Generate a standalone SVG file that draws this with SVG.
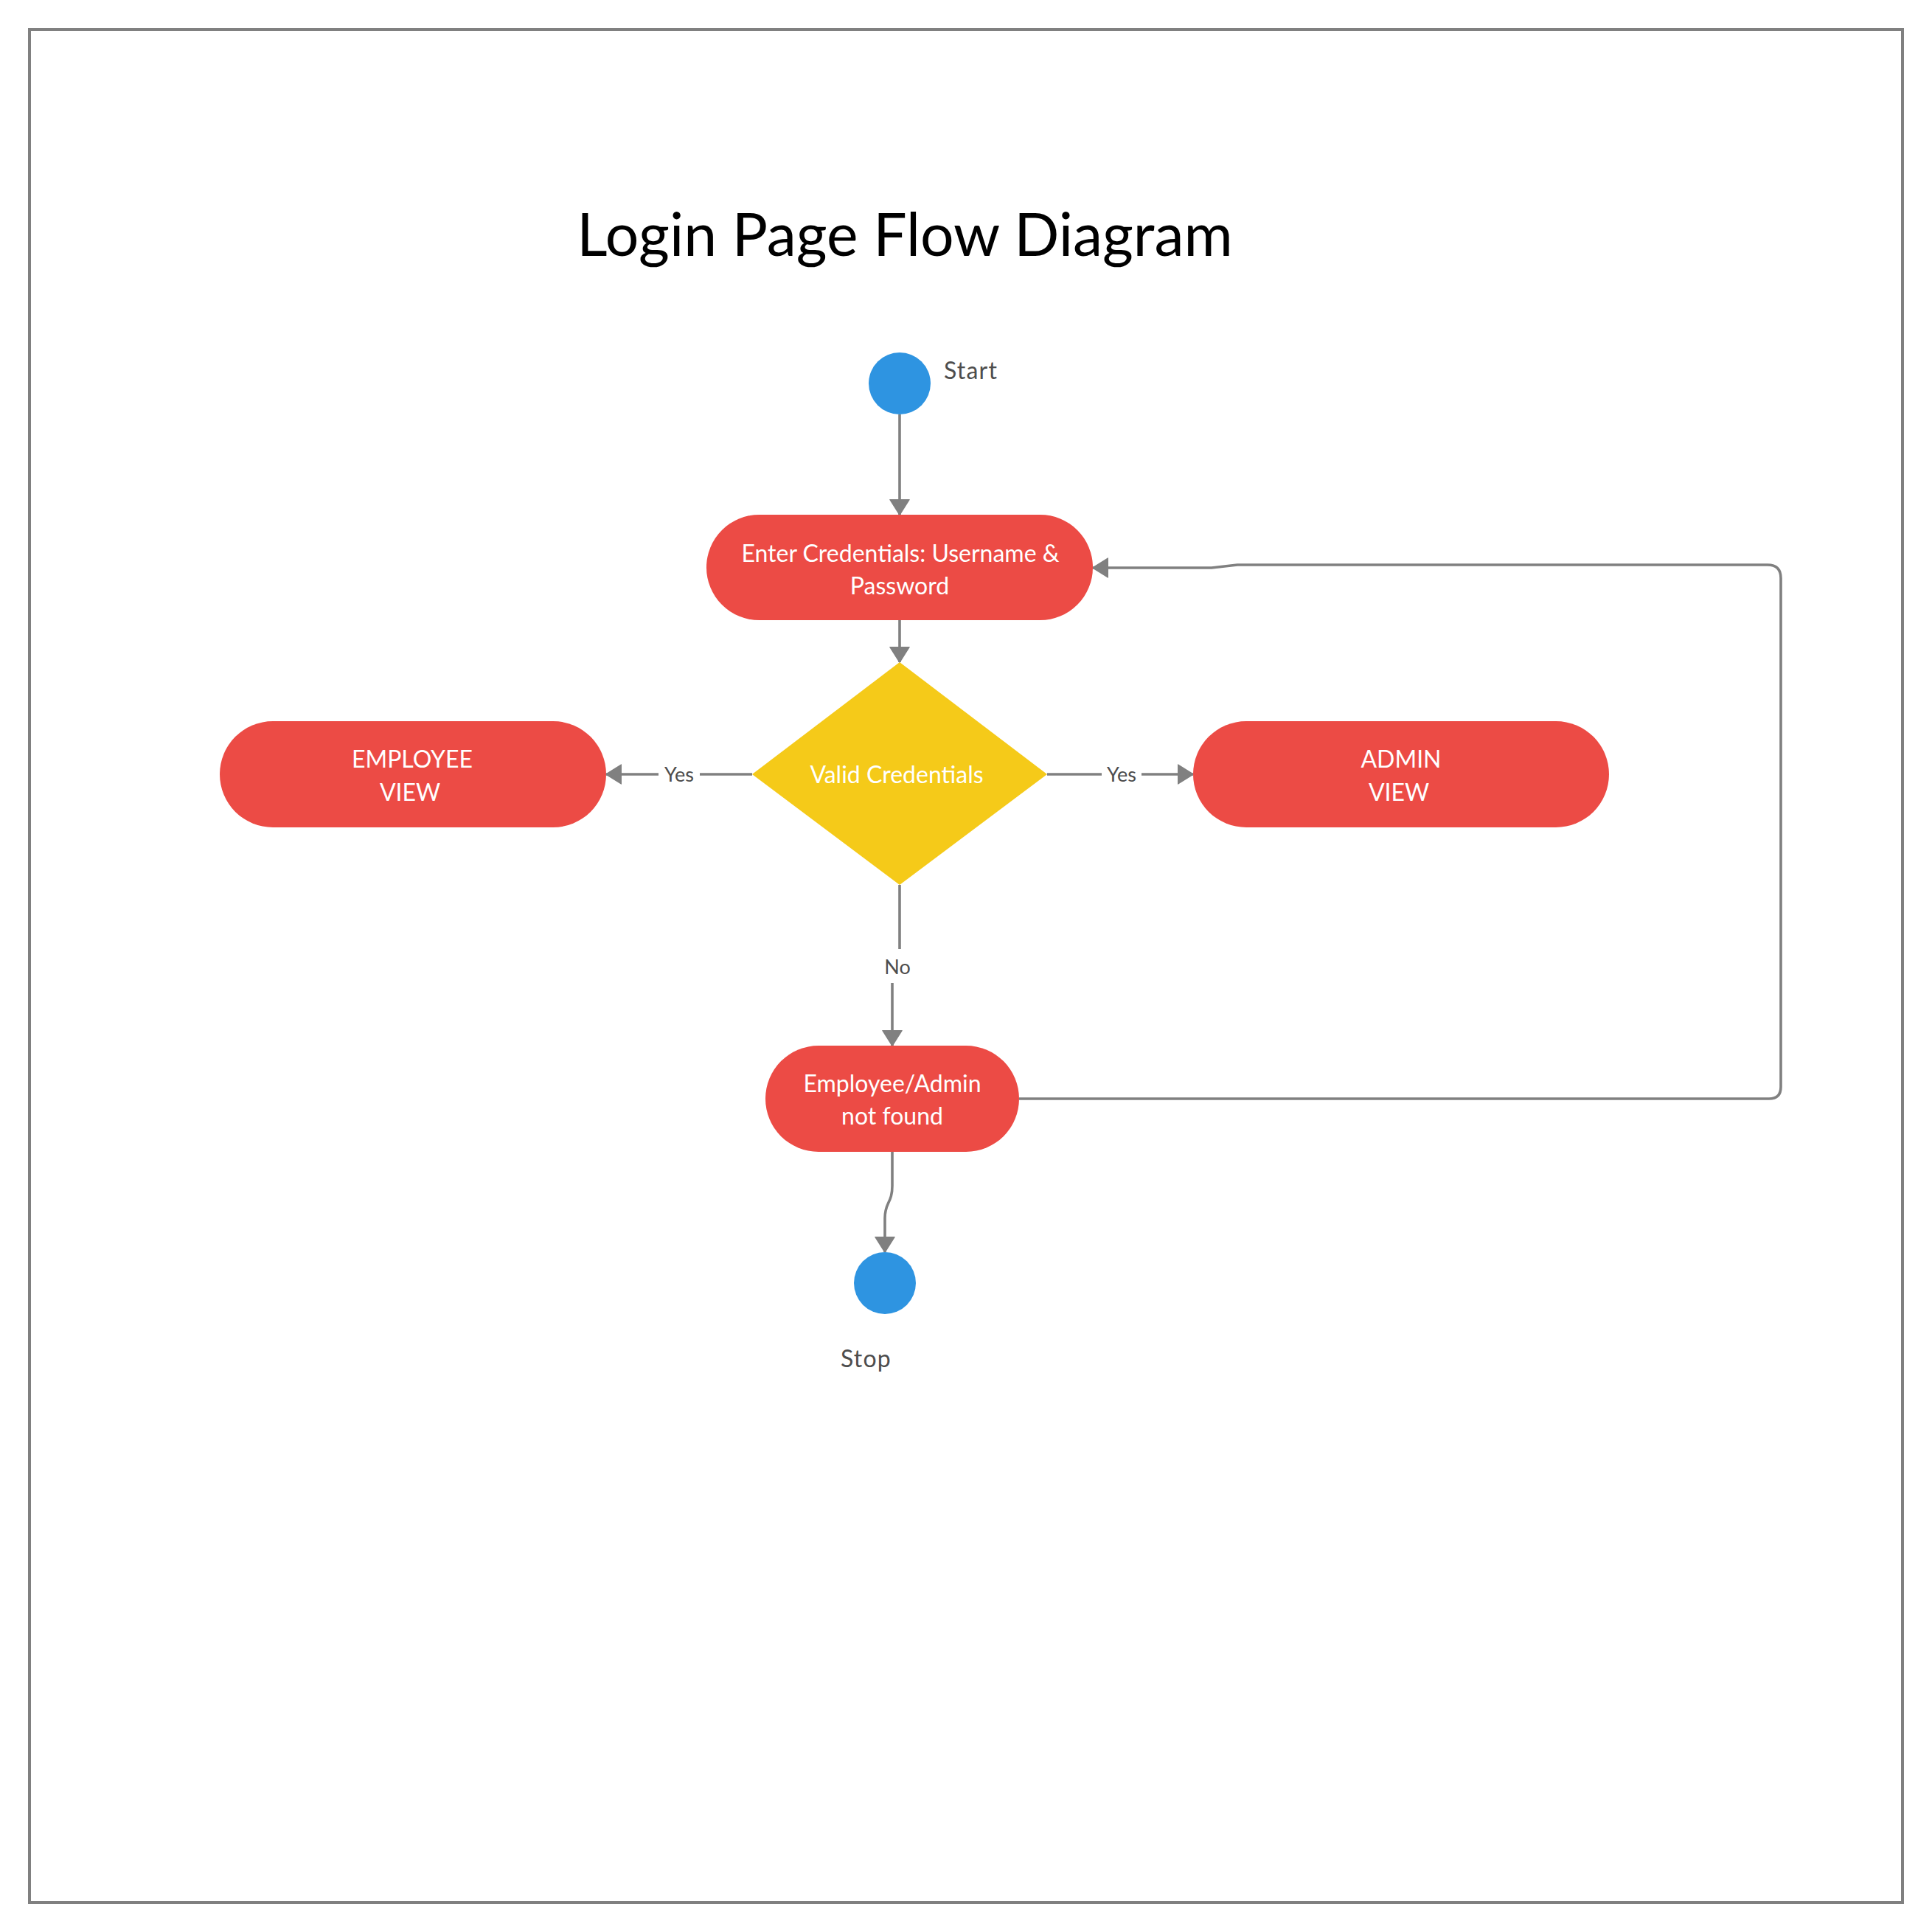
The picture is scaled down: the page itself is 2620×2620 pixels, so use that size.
<svg xmlns="http://www.w3.org/2000/svg" width="2620" height="2620" viewBox="0 0 2620 2620">
<defs>
<style>
.frame{fill:#ffffff;stroke:#808080;stroke-width:4}
.title{font-family:Lato,"Liberation Sans",sans-serif;font-size:80.5px;fill:#000000}
.term{fill:#2e94e1}
.proc{fill:#ec4b45}
.dec{fill:#f5ca19}
.ntext{font-family:Lato,"Liberation Sans",sans-serif;font-size:32px;fill:#ffffff;text-anchor:middle}
.side{font-family:Lato,"Liberation Sans",sans-serif;font-size:32px;letter-spacing:1.2px;fill:#4d4d4d}
.conn{fill:none;stroke:#808080;stroke-width:3.6}
.lbl{font-family:Lato,"Liberation Sans",sans-serif;font-size:27px;fill:#4d4d4d;text-anchor:middle}
.lblbg{fill:#ffffff}
</style>
<marker id="arr" markerUnits="userSpaceOnUse" markerWidth="22" markerHeight="28" viewBox="0 0 20 26" refX="19" refY="13" orient="auto">
<path d="M0,1 L19,13 L0,25 z" fill="#808080" stroke="#808080" stroke-width="1.5" stroke-linejoin="round"/>
</marker>
</defs>
<rect x="0" y="0" width="2620" height="2620" fill="#ffffff"/>
<rect class="frame" x="40" y="40" width="2540" height="2540"/>
<text class="title" x="1227" y="347" text-anchor="middle">Login Page Flow Diagram</text>

<g id="connectors">
<path class="conn" d="M1220 562 V698" marker-end="url(#arr)"/>
<path class="conn" d="M1220 841 V898" marker-end="url(#arr)"/>
<path class="conn" d="M1020 1050 H822" marker-end="url(#arr)"/>
<path class="conn" d="M1420 1050 H1618" marker-end="url(#arr)"/>
<path class="conn" d="M1220 1200 V1294 L1210 1326 V1418" marker-end="url(#arr)"/>
<path class="conn" d="M1210 1562 V1608 C1210 1632 1200 1630 1200 1652 V1698" marker-end="url(#arr)"/>
<path class="conn" d="M1382 1490 H2399 Q2415 1490 2415 1474 V784 Q2415 766 2397 766 H1678 L1643 770 H1482" marker-end="url(#arr)"/>
<g id="label-yes-left"><rect class="lblbg" x="893" y="1034" width="56" height="34"/><text class="lbl" x="921" y="1060">Yes</text></g>
<g id="label-yes-right"><rect class="lblbg" x="1494" y="1034" width="54" height="34"/><text class="lbl" x="1521" y="1060">Yes</text></g>
<g id="label-no"><rect class="lblbg" x="1192" y="1287" width="50" height="46"/><text class="lbl" x="1217" y="1321">No</text></g>
</g>

<g id="start">
<circle class="term" cx="1220" cy="520" r="42"/>
<text class="side" x="1280" y="514">Start</text>
</g>

<g id="enter-credentials">
<rect class="proc" x="958" y="698" width="524" height="143" rx="71.5"/>
<text class="ntext" x="1221" y="762">Enter Credentials: Username &amp;</text>
<text class="ntext" x="1220" y="806">Password</text>
</g>

<g id="valid-credentials">
<polygon class="dec" points="1220,898 1420,1050 1220,1200 1020,1050"/>
<text class="ntext" x="1216" y="1062">Valid Credentials</text>
</g>

<g id="employee-view">
<rect class="proc" x="298" y="978" width="524" height="144" rx="72"/>
<text class="ntext" x="559" y="1041">EMPLOYEE</text>
<text class="ntext" x="556" y="1086">VIEW</text>
</g>

<g id="admin-view">
<rect class="proc" x="1618" y="978" width="564" height="144" rx="72"/>
<text class="ntext" x="1900" y="1041">ADMIN</text>
<text class="ntext" x="1897" y="1086">VIEW</text>
</g>

<g id="not-found">
<rect class="proc" x="1038" y="1418" width="344" height="144" rx="72"/>
<text class="ntext" x="1210" y="1481">Employee/Admin</text>
<text class="ntext" x="1210" y="1525">not found</text>
</g>

<g id="stop">
<circle class="term" cx="1200" cy="1740" r="42"/>
<text class="side" x="1140" y="1854">Stop</text>
</g>
</svg>
